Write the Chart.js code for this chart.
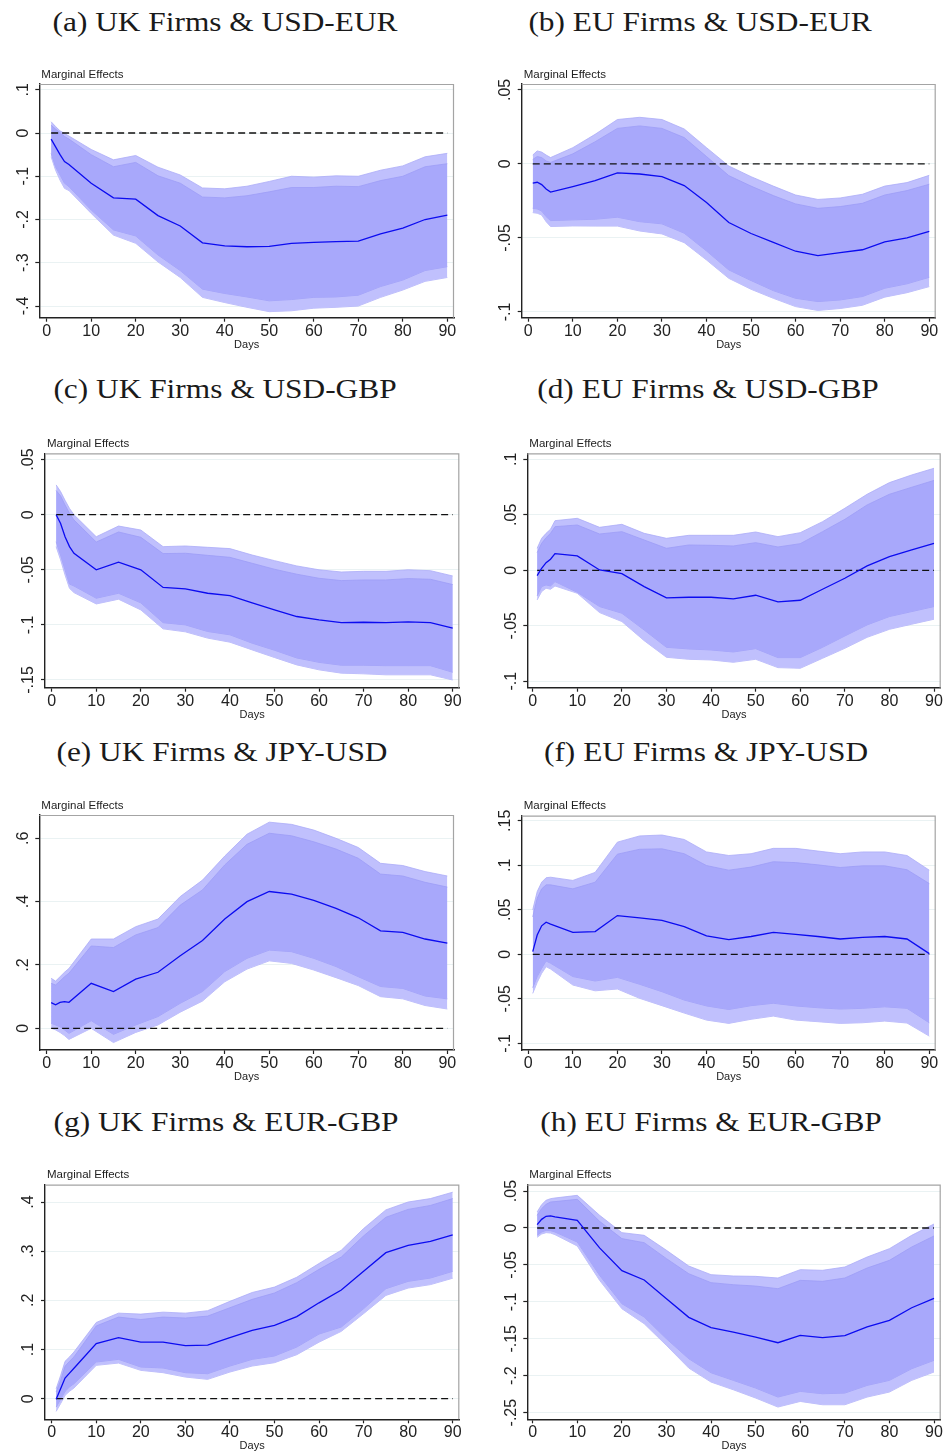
<!DOCTYPE html>
<html>
<head>
<meta charset="utf-8">
<script src="https://cdn.jsdelivr.net/npm/chart.js@4.4.1/dist/chart.umd.min.js"></script>
<style>
html, body { margin: 0; padding: 0; background: #fff; overflow: hidden; }
#page { position: relative; width: 947px; height: 1452px; }
.cap {
    position: absolute; white-space: nowrap; color: #1a1a1a;
    font-family: "Liberation Serif", "Times New Roman", serif;
    font-size: 28px; line-height: 30px;
    transform: translateX(-50%) scaleX(1.12);
}
canvas { position: absolute; }
</style>
</head>
<body>
<div id="page"></div>
<script>
// horizon in days
const days = [1, 2, 3, 4, 5, 10, 15, 20, 25, 30, 35, 40, 45, 50, 55, 60, 65, 70, 75, 80, 85, 90];
const xTicks = [0, 10, 20, 30, 40, 50, 60, 70, 80, 90];
// dashed reference line at zero
const refDays = [1, 90];
const refLine = [0, 0];

// (a) UK Firms & USD-EUR
const aMid  = [-0.014, -0.032, -0.050, -0.066, -0.073, -0.116, -0.150, -0.153, -0.191, -0.215, -0.254, -0.261, -0.263, -0.262, -0.255, -0.253, -0.251, -0.250, -0.233, -0.220, -0.200, -0.190];
const aHi95 = [0.026, 0.015, 0.005, -0.001, -0.007, -0.038, -0.062, -0.052, -0.079, -0.097, -0.127, -0.129, -0.123, -0.112, -0.100, -0.102, -0.099, -0.100, -0.086, -0.076, -0.055, -0.047];
const aHi90 = [0.018, 0.009, 0.001, -0.008, -0.014, -0.050, -0.078, -0.068, -0.099, -0.116, -0.148, -0.150, -0.145, -0.136, -0.126, -0.126, -0.123, -0.124, -0.110, -0.100, -0.078, -0.071];
const aLo90 = [-0.047, -0.078, -0.097, -0.116, -0.124, -0.178, -0.224, -0.238, -0.282, -0.318, -0.361, -0.371, -0.379, -0.388, -0.385, -0.380, -0.379, -0.375, -0.355, -0.340, -0.318, -0.309];
const aLo95 = [-0.055, -0.086, -0.109, -0.128, -0.133, -0.186, -0.236, -0.255, -0.298, -0.334, -0.380, -0.392, -0.403, -0.413, -0.411, -0.405, -0.403, -0.400, -0.380, -0.363, -0.343, -0.334];
const aTicks = [0.1, 0, -0.1, -0.2, -0.3, -0.4];

// (b) EU Firms & USD-EUR
const bMid  = [-0.013, -0.0124, -0.014, -0.017, -0.019, -0.0153, -0.0113, -0.006, -0.0068, -0.0086, -0.0146, -0.026, -0.0396, -0.047, -0.053, -0.059, -0.062, -0.060, -0.058, -0.0527, -0.050, -0.0455];
const bHi95 = [0.006, 0.0088, 0.008, 0.006, 0.0043, 0.011, 0.020, 0.030, 0.0315, 0.030, 0.0236, 0.011, -0.0014, -0.0086, -0.015, -0.021, -0.024, -0.023, -0.0205, -0.015, -0.0126, -0.0077];
const bHi90 = [0.003, 0.005, 0.0043, 0.002, 0.001, 0.0068, 0.015, 0.024, 0.0257, 0.024, 0.0178, 0.005, -0.0079, -0.015, -0.0214, -0.027, -0.030, -0.0288, -0.0266, -0.021, -0.018, -0.0137];
const bLo90 = [-0.030, -0.0304, -0.0318, -0.0356, -0.0383, -0.0378, -0.0374, -0.036, -0.039, -0.0405, -0.0468, -0.0588, -0.0716, -0.0788, -0.0856, -0.0908, -0.093, -0.0919, -0.0896, -0.084, -0.081, -0.0766];
const bLo95 = [-0.0329, -0.0333, -0.0345, -0.039, -0.0423, -0.0419, -0.042, -0.042, -0.0453, -0.0473, -0.0532, -0.0649, -0.0773, -0.0847, -0.0908, -0.0964, -0.099, -0.0977, -0.0955, -0.090, -0.087, -0.0829];
const bTicks = [0.05, 0, -0.05, -0.1];

// (c) UK Firms & USD-GBP
const cMid  = [0, -0.008, -0.020, -0.029, -0.035, -0.050, -0.043, -0.050, -0.066, -0.0674, -0.0713, -0.0734, -0.080, -0.0864, -0.0924, -0.0955, -0.098, -0.0976, -0.098, -0.0973, -0.098, -0.103];
const cHi95 = [0.027, 0.021, 0.013, 0.0057, 0, -0.020, -0.0103, -0.0139, -0.029, -0.0284, -0.0296, -0.0308, -0.0366, -0.0417, -0.0465, -0.050, -0.052, -0.0514, -0.0514, -0.050, -0.0508, -0.0556];
const cHi90 = [0.022, 0.017, 0.0088, 0.0012, -0.0048, -0.0248, -0.0157, -0.0205, -0.0353, -0.035, -0.0369, -0.0387, -0.0441, -0.0495, -0.054, -0.0577, -0.0598, -0.0592, -0.0592, -0.058, -0.0586, -0.0634];
const cLo90 = [-0.0245, -0.0366, -0.050, -0.063, -0.0647, -0.0758, -0.0713, -0.080, -0.098, -0.100, -0.106, -0.109, -0.1166, -0.123, -0.130, -0.134, -0.1366, -0.1366, -0.137, -0.137, -0.137, -0.143];
const cLo95 = [-0.029, -0.041, -0.0547, -0.0668, -0.0707, -0.081, -0.0767, -0.0864, -0.1036, -0.1063, -0.112, -0.1157, -0.1227, -0.1296, -0.1363, -0.1408, -0.1438, -0.1444, -0.1453, -0.1453, -0.1453, -0.150];
const cTicks = [0.05, 0, -0.05, -0.1, -0.15];

// (d) EU Firms & USD-GBP
const dMid  = [-0.0048, 0.0018, 0.0069, 0.010, 0.015, 0.0129, 0.0003, -0.003, -0.0147, -0.0249, -0.0243, -0.0243, -0.0258, -0.0225, -0.0285, -0.027, -0.0171, -0.0072, 0.0039, 0.0123, 0.0183, 0.0243];
const dHi95 = [0.0198, 0.0288, 0.0333, 0.037, 0.0447, 0.0468, 0.0387, 0.0414, 0.0333, 0.0288, 0.0315, 0.0315, 0.0315, 0.0345, 0.0303, 0.0339, 0.0438, 0.0559, 0.0685, 0.079, 0.0859, 0.0919];
const dHi90 = [0.0159, 0.0243, 0.0294, 0.0333, 0.0393, 0.0408, 0.0327, 0.0348, 0.0273, 0.0198, 0.0228, 0.0225, 0.0219, 0.0249, 0.021, 0.024, 0.0348, 0.0459, 0.0589, 0.0685, 0.0748, 0.081];
const dLo90 = [-0.0231, -0.0147, -0.0132, -0.0141, -0.0102, -0.0198, -0.0327, -0.0387, -0.0538, -0.0694, -0.0709, -0.0718, -0.0736, -0.0706, -0.0787, -0.0787, -0.0694, -0.0592, -0.0492, -0.0417, -0.0372, -0.0327];
const dLo95 = [-0.0267, -0.0192, -0.0162, -0.0171, -0.0141, -0.0207, -0.0381, -0.0462, -0.0634, -0.0784, -0.0802, -0.0808, -0.0829, -0.0802, -0.0877, -0.0883, -0.0793, -0.0703, -0.0604, -0.0532, -0.0486, -0.0441];
const dTicks = [0.1, 0.05, 0, -0.05, -0.1];

// (e) UK Firms & JPY-USD
const eMid  = [0.081, 0.074, 0.082, 0.084, 0.082, 0.142, 0.116, 0.155, 0.177, 0.229, 0.277, 0.345, 0.400, 0.432, 0.424, 0.404, 0.379, 0.349, 0.308, 0.303, 0.282, 0.269];
const eHi95 = [0.158, 0.149, 0.163, 0.177, 0.189, 0.282, 0.282, 0.321, 0.345, 0.416, 0.468, 0.544, 0.613, 0.651, 0.644, 0.626, 0.600, 0.571, 0.521, 0.514, 0.495, 0.481];
const eHi90 = [0.142, 0.137, 0.149, 0.163, 0.174, 0.260, 0.255, 0.295, 0.318, 0.389, 0.437, 0.516, 0.581, 0.616, 0.608, 0.589, 0.566, 0.537, 0.487, 0.481, 0.461, 0.446];
const eLo90 = [0.016, 0.0105, 0.005, -0.005, -0.016, 0.024, -0.019, 0.0105, 0.037, 0.079, 0.116, 0.179, 0.221, 0.247, 0.242, 0.221, 0.195, 0.163, 0.132, 0.126, 0.102, 0.093];
const eLo95 = [0.0, -0.005, -0.013, -0.023, -0.035, 0.0, -0.045, -0.013, 0.0105, 0.051, 0.086, 0.147, 0.187, 0.213, 0.205, 0.184, 0.160, 0.135, 0.100, 0.093, 0.072, 0.061];
const eTicks = [0.6, 0.4, 0.2, 0];

// (f) EU Firms & JPY-USD
const fMid  = [0.003, 0.0217, 0.032, 0.036, 0.034, 0.0247, 0.0255, 0.0435, 0.041, 0.038, 0.031, 0.0206, 0.0165, 0.020, 0.0247, 0.0225, 0.020, 0.0172, 0.019, 0.020, 0.0172, 0.0008];
const fHi95 = [0.050, 0.0705, 0.081, 0.086, 0.0866, 0.083, 0.092, 0.126, 0.133, 0.134, 0.129, 0.115, 0.111, 0.113, 0.119, 0.119, 0.116, 0.113, 0.115, 0.115, 0.111, 0.0945];
const fHi90 = [0.042, 0.063, 0.0735, 0.078, 0.078, 0.0735, 0.081, 0.1125, 0.118, 0.1185, 0.113, 0.0997, 0.0945, 0.098, 0.104, 0.103, 0.1005, 0.0975, 0.0994, 0.0994, 0.095, 0.0795];
const fLo90 = [-0.0375, -0.025, -0.0157, -0.0075, -0.010, -0.025, -0.030, -0.0259, -0.0337, -0.042, -0.0514, -0.058, -0.062, -0.0577, -0.055, -0.058, -0.060, -0.0615, -0.0607, -0.059, -0.0607, -0.0769];
const fLo95 = [-0.0439, -0.0315, -0.0214, -0.0139, -0.0165, -0.0345, -0.041, -0.039, -0.0495, -0.0577, -0.066, -0.0739, -0.0776, -0.073, -0.0694, -0.0739, -0.0757, -0.0776, -0.0769, -0.075, -0.0772, -0.0919];
const fTicks = [0.15, 0.1, 0.05, 0, -0.05, -0.1];

// (g) UK Firms & EUR-GBP
const gMid  = [-0.001, 0.020, 0.042, 0.052, 0.062, 0.112, 0.124, 0.115, 0.115, 0.108, 0.109, 0.124, 0.139, 0.149, 0.167, 0.195, 0.221, 0.259, 0.297, 0.312, 0.320, 0.333];
const gHi95 = [0.020, 0.047, 0.076, 0.085, 0.095, 0.155, 0.174, 0.172, 0.176, 0.174, 0.179, 0.198, 0.216, 0.227, 0.247, 0.275, 0.302, 0.346, 0.384, 0.400, 0.407, 0.420];
const gHi90 = [0.0136, 0.037, 0.066, 0.076, 0.085, 0.148, 0.166, 0.161, 0.166, 0.164, 0.168, 0.185, 0.202, 0.215, 0.236, 0.263, 0.288, 0.331, 0.369, 0.385, 0.393, 0.407];
const gLo90 = [-0.017, -0.0014, 0.015, 0.024, 0.0305, 0.0746, 0.080, 0.0644, 0.0624, 0.0529, 0.0508, 0.0664, 0.080, 0.0868, 0.105, 0.1315, 0.1458, 0.183, 0.2237, 0.2386, 0.2454, 0.259];
const gLo95 = [-0.0258, -0.010, 0.0068, 0.015, 0.0217, 0.0678, 0.0725, 0.0576, 0.0529, 0.044, 0.0393, 0.0542, 0.0664, 0.0732, 0.0895, 0.115, 0.137, 0.173, 0.210, 0.225, 0.232, 0.245];
const gTicks = [0.4, 0.3, 0.2, 0.1, 0];

// (h) EU Firms & EUR-GBP
const hMid  = [0.0045, 0.0117, 0.0158, 0.0163, 0.0149, 0.0104, -0.027, -0.0578, -0.0704, -0.0957, -0.121, -0.135, -0.1409, -0.1476, -0.1553, -0.1454, -0.1485, -0.1458, -0.134, -0.125, -0.108, -0.0953];
const hHi95 = [0.0217, 0.0316, 0.0375, 0.0397, 0.0406, 0.0442, 0.0172, -0.0063, -0.0099, -0.0302, -0.0515, -0.0632, -0.065, -0.0655, -0.0677, -0.0564, -0.0573, -0.0528, -0.0393, -0.028, -0.0099, 0.0054];
const hHi90 = [0.0172, 0.0262, 0.032, 0.0352, 0.0357, 0.0388, 0.009, -0.0144, -0.0199, -0.0415, -0.0619, -0.074, -0.0768, -0.0786, -0.0822, -0.0709, -0.0722, -0.0677, -0.0542, -0.0438, -0.0257, -0.0108];
const hLo90 = [-0.0099, -0.0054, -0.0032, -0.0036, -0.0054, -0.019, -0.0641, -0.1025, -0.1205, -0.150, -0.177, -0.196, -0.2063, -0.2167, -0.2289, -0.2212, -0.2244, -0.2235, -0.2131, -0.2063, -0.1905, -0.1792];
const hLo95 = [-0.0126, -0.0081, -0.0063, -0.0068, -0.009, -0.0244, -0.0709, -0.1093, -0.1296, -0.159, -0.1896, -0.2086, -0.219, -0.2302, -0.2424, -0.2348, -0.2393, -0.2393, -0.2289, -0.2221, -0.2063, -0.195];
const hTicks = [0.05, 0, -0.05, -0.1, -0.15, -0.2, -0.25];

const panels = [
    { title: '(a) UK Firms & USD-EUR', mid: aMid, hi95: aHi95, hi90: aHi90, lo90: aLo90, lo95: aLo95, yTicks: aTicks },
    { title: '(b) EU Firms & USD-EUR', mid: bMid, hi95: bHi95, hi90: bHi90, lo90: bLo90, lo95: bLo95, yTicks: bTicks },
    { title: '(c) UK Firms & USD-GBP', mid: cMid, hi95: cHi95, hi90: cHi90, lo90: cLo90, lo95: cLo95, yTicks: cTicks },
    { title: '(d) EU Firms & USD-GBP', mid: dMid, hi95: dHi95, hi90: dHi90, lo90: dLo90, lo95: dLo95, yTicks: dTicks },
    { title: '(e) UK Firms & JPY-USD', mid: eMid, hi95: eHi95, hi90: eHi90, lo90: eLo90, lo95: eLo95, yTicks: eTicks },
    { title: '(f) EU Firms & JPY-USD', mid: fMid, hi95: fHi95, hi90: fHi90, lo90: fLo90, lo95: fLo95, yTicks: fTicks },
    { title: '(g) UK Firms & EUR-GBP', mid: gMid, hi95: gHi95, hi90: gHi90, lo90: gLo90, lo95: gLo95, yTicks: gTicks },
    { title: '(h) EU Firms & EUR-GBP', mid: hMid, hi95: hHi95, hi90: hHi90, lo90: hLo90, lo95: hLo95, yTicks: hTicks }
];

// plot area of each panel on the page, plus axis ranges and caption spot
const boxes = [
    { col: 0, L: 39.3,  R: 454,   T: 84,     B: 317.7,  xMin: -1.66, xMax: 91.5,  yMin: -0.427,  yMax: 0.1133, capX: 225, capTop: 7.3 },
    { col: 1, L: 521.7, R: 935.7, T: 84,     B: 317.7,  xMin: -1.48, xMax: 91.44, yMin: -0.1039, yMax: 0.054,  capX: 700, capTop: 7.3 },
    { col: 0, L: 45,    R: 459.3, T: 453.3,  B: 687.7,  xMin: -1.5,  xMax: 91.48, yMin: -0.157,  yMax: 0.0557, capX: 225, capTop: 373.9 },
    { col: 1, L: 527.3, R: 940.7, T: 453.3,  B: 687.7,  xMin: -1.21, xMax: 91.5,  yMin: -0.1058, yMax: 0.1054, capX: 708, capTop: 373.9 },
    { col: 0, L: 39.3,  R: 454,   T: 815,    B: 1050,   xMin: -1.66, xMax: 91.5,  yMin: -0.0685, yMax: 0.6736, capX: 222, capTop: 736.6 },
    { col: 1, L: 521.7, R: 935.7, T: 815.7,  B: 1050,   xMin: -1.48, xMax: 91.44, yMin: -0.1075, yMax: 0.1557, capX: 706, capTop: 736.6 },
    { col: 0, L: 45,    R: 459.3, T: 1184.7, B: 1419.3, xMin: -1.5,  xMax: 91.48, yMin: -0.0419, yMax: 0.4352, capX: 226, capTop: 1106.6 },
    { col: 1, L: 527.3, R: 940.7, T: 1184.7, B: 1419.3, xMin: -1.21, xMax: 91.5,  yMin: -0.259,  yMax: 0.0586, capX: 711, capTop: 1106.6 }
];

const sansFamily = '"Liberation Sans", Arial, Helvetica, sans-serif';
const tickSize = 16;
const ink = '#222';

// Stata style tick labels: .05 and -.1 without the leading zero
function fmt(v) {
    if (v === 0) return '0';
    const s = Math.abs(v).toString().replace(/^0/, '');
    return (v < 0 ? '-' : '') + s;
}

const meas = document.createElement('canvas').getContext('2d');
meas.font = tickSize + 'px ' + sansFamily;

// top and right edges of the plot region + the "Marginal Effects" note
const framePlugin = {
    id: 'frame',
    afterDatasetsDraw(chart) {
        const { ctx, chartArea: a } = chart;
        ctx.save();
        ctx.strokeStyle = '#a4a4a4';
        ctx.lineWidth = 1.2;
        ctx.beginPath();
        ctx.moveTo(a.left, a.top + 0.5);
        ctx.lineTo(a.right - 0.5, a.top + 0.5);
        ctx.lineTo(a.right - 0.5, a.bottom);
        ctx.stroke();
        ctx.fillStyle = ink;
        ctx.font = '11.5px ' + sansFamily;
        ctx.textBaseline = 'middle';
        ctx.fillText('Marginal Effects', a.left + 2, a.top - 9.5);
        ctx.restore();
    }
};

function pts(arr, xs) {
    return (xs || days).map((d, i) => ({ x: d, y: arr[i] }));
}

const page = document.getElementById('page');

panels.forEach((p, k) => {
    const g = boxes[k];

    const cap = document.createElement('div');
    cap.className = 'cap';
    cap.textContent = p.title;
    cap.style.left = g.capX + 'px';
    cap.style.top = g.capTop + 'px';
    page.appendChild(cap);

    const cx = g.col === 0 ? 0 : 470;
    const cw = g.col === 0 ? 470 : 477;
    const cTop = Math.round(g.T - 24);
    const cH = Math.round(g.B + 42 - cTop);
    const canvas = document.createElement('canvas');
    canvas.width = cw;
    canvas.height = cH;
    canvas.style.left = cx + 'px';
    canvas.style.top = cTop + 'px';
    canvas.style.width = cw + 'px';
    canvas.style.height = cH + 'px';
    page.appendChild(canvas);

    const yAxisW = g.L - cx;
    const xAxisH = cTop + cH - g.B;
    const widest = Math.max(...p.yTicks.map(v => meas.measureText(fmt(v)).width));
    const titleLH = 11 * 1.2;

    new Chart(canvas, {
        type: 'line',
        data: {
            datasets: [
                { data: pts(p.mid), borderColor: '#0b0bf0', borderWidth: 1.3, pointRadius: 0, fill: false },
                { data: pts(refLine, refDays), borderColor: '#111', borderWidth: 1.3, borderDash: [7, 4], pointRadius: 0, fill: false },
                { data: pts(p.hi90), borderColor: '#9d9df6', borderWidth: 0.8, pointRadius: 0, fill: '+1', backgroundColor: '#a8a8fb' },
                { data: pts(p.lo90), borderColor: '#9d9df6', borderWidth: 0.8, pointRadius: 0, fill: false },
                { data: pts(p.hi95), borderColor: '#acacf8', borderWidth: 0.8, pointRadius: 0, fill: '+1', backgroundColor: '#c0c0fd' },
                { data: pts(p.lo95), borderColor: '#acacf8', borderWidth: 0.8, pointRadius: 0, fill: false }
            ]
        },
        options: {
            responsive: false,
            animation: false,
            events: [],
            layout: { padding: { top: g.T - cTop, right: cx + cw - g.R, left: 0, bottom: 0 } },
            elements: { line: { tension: 0 } },
            plugins: { legend: { display: false }, tooltip: { enabled: false } },
            scales: {
                x: {
                    type: 'linear',
                    min: g.xMin,
                    max: g.xMax,
                    afterBuildTicks: (scale) => { scale.ticks = xTicks.map(v => ({ value: v })); },
                    afterFit: (scale) => { scale.height = xAxisH; },
                    grid: { drawOnChartArea: false, drawTicks: true, tickLength: 4, tickColor: ink, tickWidth: 1.2 },
                    border: { display: true, color: ink, width: 1.4 },
                    ticks: { autoSkip: false, maxRotation: 0, padding: 0, color: ink, font: { family: sansFamily, size: tickSize } },
                    title: {
                        display: true, text: 'Days', color: ink,
                        font: { family: sansFamily, size: 11, lineHeight: 1.2 },
                        padding: { top: 0, bottom: (xAxisH - 27) - titleLH / 2 }
                    }
                },
                y: {
                    type: 'linear',
                    min: g.yMin,
                    max: g.yMax,
                    afterBuildTicks: (scale) => { scale.ticks = p.yTicks.map(v => ({ value: v })); },
                    afterFit: (scale) => { scale.width = yAxisW; },
                    grid: { color: '#eaf2f3', lineWidth: 1, drawTicks: true, tickLength: 4, tickColor: ink, tickWidth: 1.2 },
                    border: { display: true, color: ink, width: 1.4 },
                    ticks: {
                        autoSkip: false, minRotation: 90, maxRotation: 90, crossAlign: 'center',
                        padding: 16 - 4 - widest / 2,
                        color: ink, font: { family: sansFamily, size: tickSize },
                        callback: (v) => fmt(v)
                    }
                }
            }
        },
        plugins: [framePlugin]
    });
});
</script>
</body>
</html>
